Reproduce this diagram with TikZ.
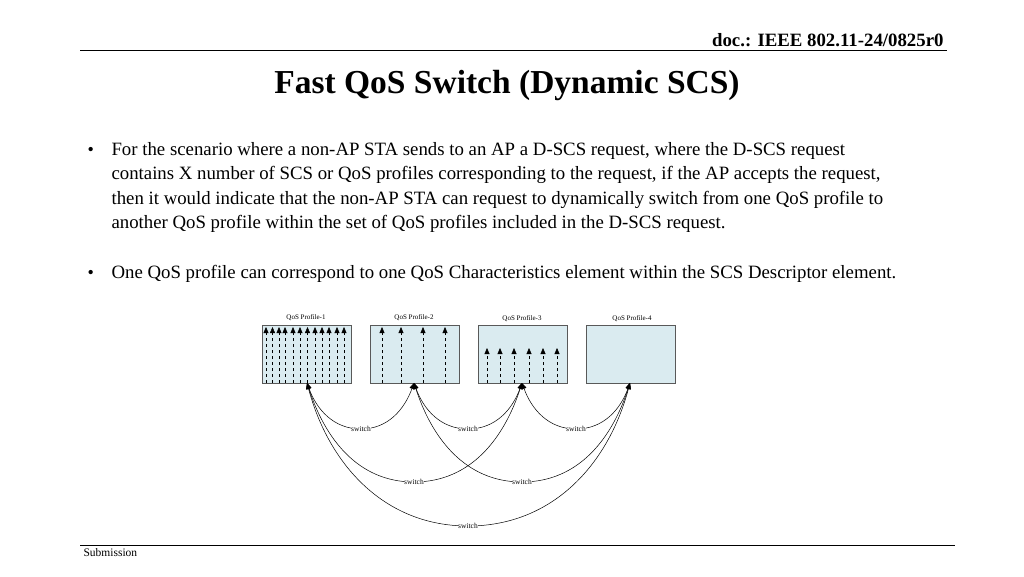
\documentclass[tikz,border=0pt]{standalone}
\usepackage{fontspec}
\setmainfont{Liberation Serif}
\usetikzlibrary{arrows.meta}
\definecolor{boxfill}{RGB}{218,235,240}
\begin{document}
\begin{tikzpicture}[x=1pt,y=-1pt,
  prof/.style={draw=gray!70!black,fill=boxfill,minimum width=89pt,minimum height=58pt,anchor=north west,inner sep=0},
  plab/.style={font=\fontsize{7}{8}\selectfont},
  sw/.style={font=\fontsize{7.5}{8}\selectfont,fill=white,inner sep=0.5pt},
  flow/.style={dashed,-{Triangle[length=6pt,width=5pt]},line width=0.5pt},
  link/.style={{Triangle[length=6pt,width=5pt]}-{Triangle[length=6pt,width=5pt]},line width=0.5pt},
  btxt/.style={anchor=base west,font=\fontsize{18.8}{20}\selectfont}]
\useasboundingbox (0,0) rectangle (1024,576);
\node[anchor=base east,font=\bfseries\fontsize{18.8}{20}\selectfont] (hdr) at (947,46) {doc.: IEEE 802.11-24/0825r0};
\draw[line width=0.6pt] (80,50) -- (947,50);
\node[anchor=base,font=\bfseries\fontsize{33.5}{36}\selectfont] (title) at (507,93) {Fast QoS Switch (Dynamic SCS)};
\node[anchor=base west,font=\fontsize{18}{20}\selectfont] (b1) at (84,155) {•};
\node[btxt] (l1) at (108,155) {For the scenario where a non-AP STA sends to an AP a D-SCS request, where the D-SCS request};
\node[btxt] (l2) at (108,179) {contains X number of SCS or QoS profiles corresponding to the request, if the AP accepts the request,};
\node[btxt] (l3) at (108,204) {then it would indicate that the non-AP STA can request to dynamically switch from one QoS profile to};
\node[btxt] (l4) at (108,228) {another QoS profile within the set of QoS profiles included in the D-SCS request.};
\node[anchor=base west,font=\fontsize{18}{20}\selectfont] (b2) at (84,278) {•};
\node[btxt] (l5) at (108,278) {One QoS profile can correspond to one QoS Characteristics element within the SCS Descriptor element.};
\draw[line width=0.6pt] (80,545) -- (955,545);
\node[anchor=base west,font=\fontsize{11.5}{12}\selectfont] (sub) at (80,556) {Submission};
% profiles
\node[prof] (p1) at (262,325) {};
\node[prof] (p2) at (370,325) {};
\node[prof] (p3) at (478,325) {};
\node[prof] (p4) at (586,325) {};
\node[plab] (t1) at (306,318) {QoS Profile-1};
\node[plab] (t2) at (414,318) {QoS Profile-2};
\node[plab] (t3) at (522,319) {QoS Profile-3};
\node[plab] (t4) at (632,319) {QoS Profile-4};
\foreach \x in {266,272.5,279,285,293,300,307.5,315,322,329,337,344} \draw[flow] (\x,383) -- (\x,327);
\foreach \x in {382,401,423,445} \draw[flow] (\x,383) -- (\x,327);
\foreach \x in {487,500,514,529,543,557} \draw[flow] (\x,383) -- (\x,348);
% switch labels
\coordinate (s12) at (361,429);\coordinate (s23) at (468,429);\coordinate (s34) at (576,429);
\coordinate (s13) at (414,482);\coordinate (s24) at (522,482);\coordinate (s14) at (468,526);
\coordinate (a1) at (307,383);\coordinate (a2) at (414,383);
\coordinate (a3) at (522,383);\coordinate (a4) at (630,383);
\draw[link] (a1) to[out=-70,in=180] (s12) to[out=0,in=-110] (a2);
\draw[link] (a2) to[out=-70,in=180] (s23) to[out=0,in=-110] (a3);
\draw[link] (a3) to[out=-70,in=180] (s34) to[out=0,in=-110] (a4);
\draw[link] (a1) to[out=-72,in=180] (s13) to[out=0,in=-108] (a3);
\draw[link] (a2) to[out=-72,in=180] (s24) to[out=0,in=-108] (a4);
\draw[link] (a1) to[out=-75,in=180] (s14) to[out=0,in=-105] (a4);
\foreach \n in {s12,s23,s34,s13,s24,s14} \node[sw] (L\n) at (\n) {switch};
\end{tikzpicture}
\end{document}
